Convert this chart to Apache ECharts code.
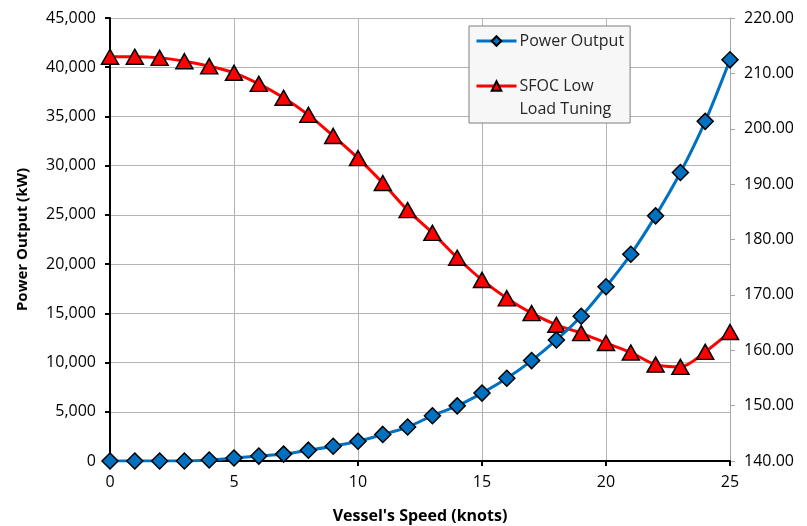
<!DOCTYPE html>
<html>
<head>
<meta charset="UTF-8">
<title>Power Output and SFOC vs Vessel Speed</title>
<script src="https://cdn.jsdelivr.net/npm/echarts@6/dist/echarts.min.js"></script>
<style>
  html, body { margin: 0; padding: 0; background: #fff; }
  #chart { width: 807px; height: 526px; }
</style>
</head>
<body>
<div id="chart"></div>
<script>
var speeds = [0,1,2,3,4,5,6,7,8,9,10,11,12,13,14,15,16,17,18,19,20,21,22,23,24,25];
var powerOutput = [0,0,0,0,100,300,500,700,1100,1500,2000,2700,3450,4600,5600,6900,8400,10200,12300,14700,17700,21000,24900,29300,34500,40750];
var sfoc = [213.0,213.0,212.8,212.2,211.3,210.1,208.1,205.6,202.5,198.7,194.7,190.2,185.3,181.2,176.7,172.7,169.4,166.7,164.6,163.1,161.3,159.6,157.4,157.0,159.7,163.3];

var font = "'Open Sans', sans-serif";

function pairs(ys) {
  return speeds.map(function (x, i) { return [x, ys[i]]; });
}

var chart = echarts.init(document.getElementById('chart'));
chart.setOption({
  animation: false,
  grid: { left: 110, right: 77, top: 18, bottom: 65, outerBoundsMode: 'none' },
  legend: {
    left: 469, top: 26,
    orient: 'vertical',
    backgroundColor: '#f7f7f7',
    borderColor: '#7f7f7f',
    borderWidth: 1,
    padding: [7, 6, 6, 6],
    itemGap: 29,
    itemWidth: 40,
    itemHeight: 12,
    lineStyle: { width: 3 },
    textStyle: { fontFamily: font, fontSize: 16, color: '#262626', padding: [0, 0, 0, -2] },
    formatter: function (name) {
      return name === 'SFOC Low Load Tuning' ? '{a|SFOC Low}\n{a|Load Tuning}' : name;
    },
    data: [
      { name: 'Power Output' },
      { name: 'SFOC Low Load Tuning', textStyle: { padding: [23, 0, 0, -2], rich: { a: { fontFamily: font, fontSize: 16, color: '#262626', lineHeight: 23 } } } }
    ]
  },
  xAxis: {
    type: 'value', min: 0, max: 25, interval: 5,
    name: "Vessel's Speed (knots)", nameLocation: 'middle', nameGap: 47,
    nameTextStyle: { fontFamily: font, fontSize: 16, fontWeight: 'bold', color: '#000' },
    axisLine: { lineStyle: { color: '#000', width: 2 } },
    axisTick: { show: true, length: 5, lineStyle: { color: '#000', width: 2 } },
    axisLabel: { fontFamily: font, fontSize: 16, color: '#000', margin: 13 },
    splitLine: { show: true, lineStyle: { color: '#b3b3b3', width: 1 } }
  },
  yAxis: [
    {
      type: 'value', min: 0, max: 45000, interval: 5000,
      name: 'Power Output (kW)', nameLocation: 'middle', nameGap: 80,
      nameTextStyle: { fontFamily: font, fontSize: 15, fontWeight: 'bold', color: '#000' },
      axisLine: { show: true, lineStyle: { color: '#000', width: 2 } },
      axisTick: { show: true, length: 5, lineStyle: { color: '#000', width: 2 } },
      axisLabel: { fontFamily: font, fontSize: 16, color: '#000', margin: 14,
        formatter: function (v) { return v.toLocaleString('en-US'); } },
      splitLine: { show: true, lineStyle: { color: '#b3b3b3', width: 1 } }
    },
    {
      type: 'value', min: 140, max: 220, interval: 10, position: 'right',
      axisLine: { show: true, lineStyle: { color: '#a6a6a6', width: 1 } },
      axisTick: { show: true, length: 5, lineStyle: { color: '#a6a6a6' } },
      axisLabel: { fontFamily: font, fontSize: 16, color: '#000', margin: 14,
        formatter: function (v) { return v.toFixed(2); } },
      splitLine: { show: false }
    }
  ],
  series: [
    {
      name: 'Power Output', type: 'line', yAxisIndex: 0,
      data: pairs(powerOutput), smooth: 0.3,
      symbol: 'diamond', symbolSize: 16,
      lineStyle: { color: '#0070c0', width: 3 },
      itemStyle: { color: '#0070c0', borderColor: '#000', borderWidth: 1.5 },
      z: 3
    },
    {
      name: 'SFOC Low Load Tuning', type: 'line', yAxisIndex: 1,
      data: pairs(sfoc), smooth: 0.3,
      symbol: 'triangle', symbolSize: [17, 15],
      lineStyle: { color: '#ff0000', width: 3 },
      itemStyle: { color: '#ff0000', borderColor: '#000', borderWidth: 1.5 },
      z: 2
    }
  ]
});
</script>
</body>
</html>
